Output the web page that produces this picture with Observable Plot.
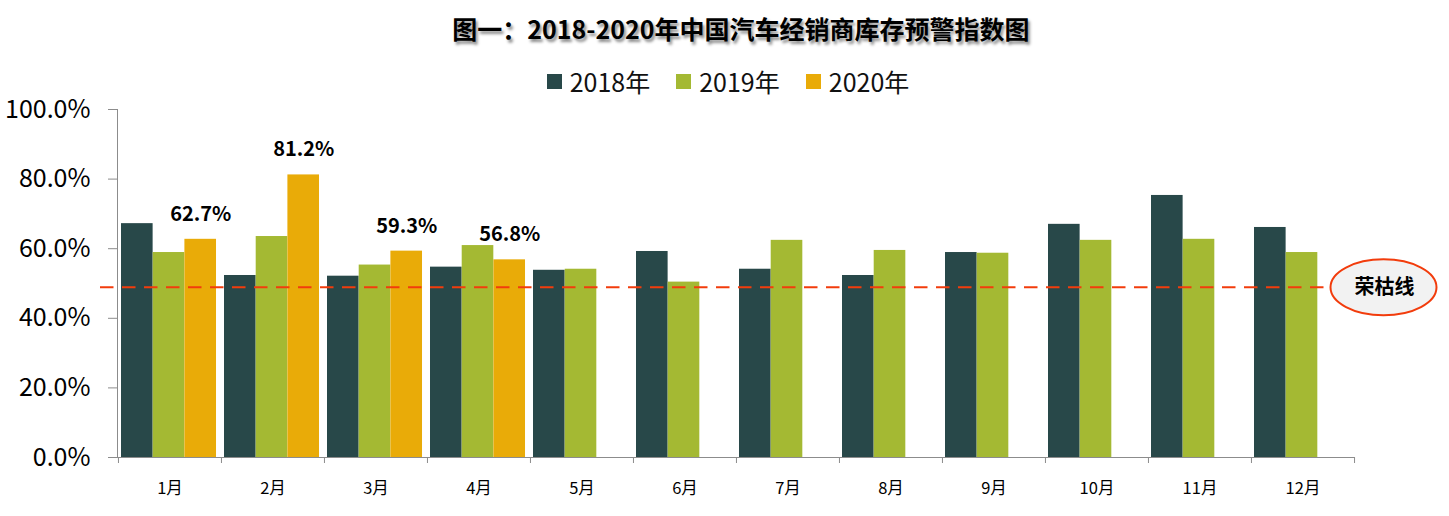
<!DOCTYPE html>
<html>
<head>
<meta charset="utf-8">
<script src="https://cdn.jsdelivr.net/npm/d3@7"></script>
<script src="https://cdn.jsdelivr.net/npm/@observablehq/plot@0.6"></script>
<style>
  html, body { margin: 0; padding: 0; background: #fff; }
  #wrap { position: relative; width: 1449px; height: 516px; font-family: "Noto Sans CJK SC", "Noto Sans", sans-serif; }
  #title { position: absolute; left: 0; top: 0; width: 1482px; height: 56px; line-height: 56px; text-align: center;
           font-size: 25px; font-weight: 700; color: #000; text-shadow: 2px 3px 3px rgba(0,0,0,0.45); }
  #legend { position: absolute; left: 0; top: 58px; width: 1456px; height: 46px; display: flex; justify-content: center; align-items: center;
            font-size: 25px; color: #111; }
  .sw { display: inline-flex; align-items: center; margin: 0 13px; }
  .sw i { display: inline-block; width: 15px; height: 15px; margin-right: 8px; }
  #chart { position: absolute; left: 0; top: 0; }
  #chart svg text { fill: #000; }
  #chart [aria-label^="x-axis"] text { font-size: 16.5px; }
</style>
</head>
<body>
<div id="wrap">
  <div id="chart"></div>
  <div id="title">图一：2018-2020年中国汽车经销商库存预警指数图</div>
  <div id="legend"></div>
</div>
<script>
const months = ["1月","2月","3月","4月","5月","6月","7月","8月","9月","10月","11月","12月"];
const years = ["2018年","2019年","2020年"];
const v2018 = [67.2, 52.3, 52.1, 54.7, 53.8, 59.2, 54.1, 52.3, 58.9, 67.0, 75.3, 66.1];
const v2019 = [58.9, 63.5, 55.3, 60.9, 54.1, 50.4, 62.4, 59.5, 58.7, 62.4, 62.7, 58.9];
const v2020 = [62.7, 81.2, 59.3, 56.8];
const colors = ["#284849", "#a4b933", "#e9ab08"];
const yTicks = [0, 20, 40, 60, 80, 100];
const threshold = 48.9;
const thresholdLabel = "荣枯线";

// layout
const W = 1449, H = 516, mL = 117, mR = 95, mT = 109, mB = 59;
const bw = (W - mL - mR) / months.length;
const barW = 31.7, lead = 3;
const gray = "#8c8c8c";
const tickLen = 6 * 100 / (H - mT - mB);

const series = [v2018, v2019, v2020];
const tables = series.map((vals, k) => vals.map((v, i) => ({month: months[i], year: years[k], value: v})));

const barMarks = tables.map((rows, k) => {
  const left = lead + k * barW;
  return Plot.barY(rows, {
    x: "month", y: "value", fill: colors[k],
    insetLeft: left, insetRight: bw - left - barW
  });
});
const labelDx = lead + 2 * barW + barW / 2 - bw / 2;

// ellipse symbol for the threshold callout
const ellipse = {
  draw(ctx) {
    const rx = 53, ry = 28, k = 0.5523;
    ctx.moveTo(-rx, 0);
    ctx.bezierCurveTo(-rx, -ry * k, -rx * k, -ry, 0, -ry);
    ctx.bezierCurveTo(rx * k, -ry, rx, -ry * k, rx, 0);
    ctx.bezierCurveTo(rx, ry * k, rx * k, ry, 0, ry);
    ctx.bezierCurveTo(-rx * k, ry, -rx, ry * k, -rx, 0);
    ctx.closePath();
  }
};

const chart = Plot.plot({
  width: W, height: H,
  marginLeft: mL, marginRight: mR, marginTop: mT, marginBottom: mB,
  style: {fontFamily: "'Noto Sans CJK SC', 'Noto Sans', sans-serif", fontSize: "25px", color: gray, background: "transparent", overflow: "visible"},
  x: {domain: months, padding: 0, tickSize: 0, tickPadding: 25, label: null},
  y: {domain: [0, 100], ticks: yTicks, tickFormat: d => d3.format(".1%")(d / 100), tickSize: 9, tickPadding: 18, line: true, label: null},
  marks: [
    ...barMarks,
    Plot.ruleY([0], {stroke: gray}),
    Plot.ruleX(months, {x: d => d, y1: 0, y2: -tickLen, dx: -bw / 2, stroke: gray}),
    Plot.ruleX([months[months.length - 1]], {x: d => d, y1: 0, y2: -tickLen, dx: bw / 2, stroke: gray}),
    Plot.text(tables[2], {x: "month", y: "value", text: d => d3.format(".1%")(d.value / 100), dx: labelDx, dy: -25,
      fontSize: 20, fontWeight: "bold", fill: "#000"}),
    Plot.ruleY([threshold], {y: d => d, stroke: "#f23c0c", strokeWidth: 2, strokeDasharray: "13.5,8.5", insetLeft: -17, insetRight: 24}),
    Plot.dot([threshold], {y: d => d, frameAnchor: "right", dx: 29, symbol: ellipse, r: 10, fill: "#f2f2f2", stroke: "#f23c0c", strokeWidth: 2}),
    Plot.text([threshold], {y: d => d, frameAnchor: "right", dx: 30, textAnchor: "middle", text: () => thresholdLabel,
      fontSize: 20, fontWeight: "bold", fill: "#000"})
  ]
});
document.getElementById("chart").appendChild(chart);

const legend = document.getElementById("legend");
years.forEach((y, k) => {
  const s = document.createElement("span");
  s.className = "sw";
  s.innerHTML = `<i style="background:${colors[k]}"></i>${y}`;
  legend.appendChild(s);
});
</script>
</body>
</html>
